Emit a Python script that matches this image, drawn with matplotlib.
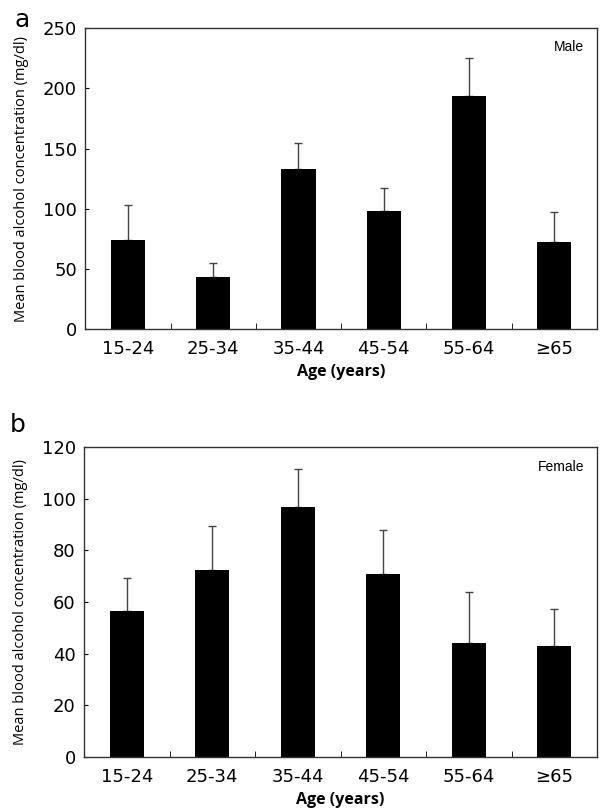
import matplotlib.pyplot as plt
import numpy as np

ages = ["15-24", "25-34", "35-44", "45-54", "55-64", "≥65"]
male_mean = [74, 43, 133, 98, 194, 72]
male_upper = [103, 55, 155, 117, 225, 97]
female_mean = [56.5, 72.5, 97, 71, 44, 43]
female_upper = [69.5, 89.5, 111.5, 88, 64, 57.5]

fig = plt.figure(figsize=(6, 8.1), dpi=100)
ax_a = fig.add_axes([0.142, 0.594, 0.853, 0.371])
ax_b = fig.add_axes([0.140, 0.0654, 0.855, 0.3826])


def draw_panel(ax, means, upper, ymax, step, label):
    x = np.arange(len(ages))
    err = np.array(upper) - np.array(means)
    ax.bar(x, means, width=0.4, color="black", zorder=2)
    ax.errorbar(x, means, yerr=[np.zeros(len(x)), err], fmt="none",
                ecolor="#444444", elinewidth=1, capsize=3, capthick=1, zorder=1)
    ax.set_xlim(-0.5, len(ages) - 0.5)
    ax.set_ylim(0, ymax)
    ax.set_yticks(np.arange(0, ymax + 1, step))
    ax.set_xticks(x)
    ax.set_xticklabels(ages)
    ax.set_xticks(np.arange(0.5, len(ages) - 0.5), minor=True)
    ax.tick_params(axis="x", which="major", length=0, labelsize=13, pad=8)
    ax.tick_params(axis="x", which="minor", direction="in", length=4)
    ax.tick_params(axis="y", direction="in", length=3, labelsize=13, pad=6)
    for t in ax.get_xticklabels() + ax.get_yticklabels():
        t.set_family("DejaVu Sans")
    for s in ax.spines.values():
        s.set_color("#333333")
        s.set_linewidth(1)
    ax.set_xlabel("Age (years)", fontsize=11.5, fontweight="bold", family="Open Sans", labelpad=4)
    ax.set_ylabel("Mean blood alcohol concentration (mg/dl)", fontsize=10.5, family="Open Sans", labelpad=10)
    ax.text(0.975, 0.96, label, transform=ax.transAxes, ha="right", va="top",
            fontsize=10, family="Liberation Sans")


draw_panel(ax_a, male_mean, male_upper, 250, 50, "Male")
draw_panel(ax_b, female_mean, female_upper, 120, 20, "Female")

fig.text(0.037, 0.99, "a", fontsize=18, ha="center", va="top")
fig.text(0.03, 0.49, "b", fontsize=18, ha="center", va="top")

fig.savefig("out.png", dpi=100)
